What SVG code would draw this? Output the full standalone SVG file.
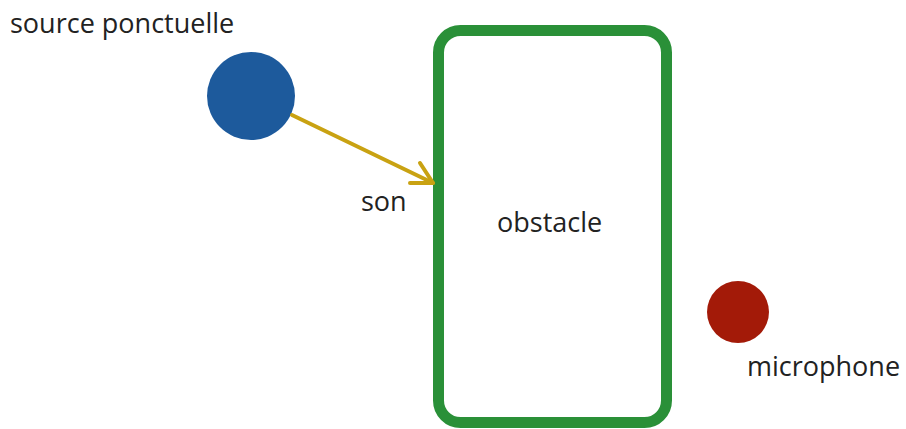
<svg xmlns="http://www.w3.org/2000/svg" width="906" height="429" viewBox="0 0 906 429">
<style>
text{font-family:"Open Sans","Liberation Sans",sans-serif;font-size:27px;fill:#222}
.conn{stroke:#c9a212;stroke-width:4;fill:none;stroke-linecap:round;stroke-linejoin:round}
</style>
<rect width="906" height="429" fill="#fff"/>
<g id="source">
<circle cx="251" cy="96" r="44" fill="#1d5a9c"/>
<text x="10" y="33">source ponctuelle</text>
</g>
<g id="obstacle">
<rect x="438.5" y="30.5" width="228" height="392" rx="22" fill="none" stroke="#2a9038" stroke-width="11"/>
<text x="497" y="232">obstacle</text>
</g>
<g id="microphone">
<circle cx="738" cy="312" r="31" fill="#a31a08"/>
<text x="747" y="376">microphone</text>
</g>
<g id="connectors">
<line class="conn" x1="292" y1="115" x2="433" y2="183"/>
<polyline class="conn" points="420,163 433,183 410,183"/>
<text x="361" y="211">son</text>
</g>
</svg>
